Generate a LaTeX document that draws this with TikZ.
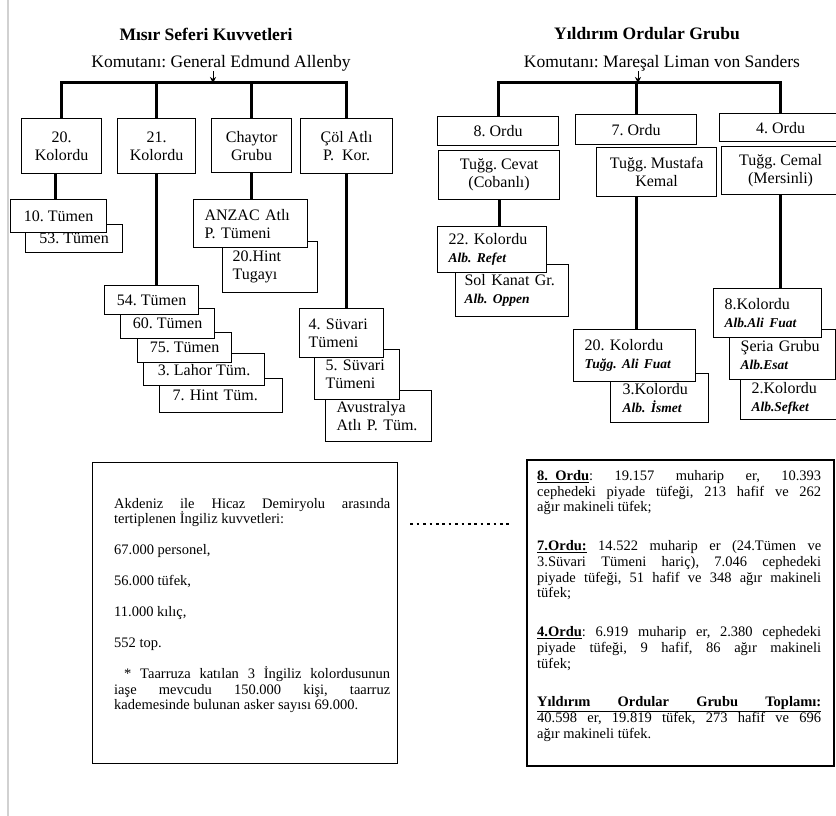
\documentclass[tikz,border=0pt]{standalone}
\usepackage{fontspec}
\setmainfont{Liberation Serif}
\usetikzlibrary{arrows.meta,calc}
\newcommand\offname[1]{{\fontsize{13.5}{18}\selectfont\bfseries\itshape #1}}
\begin{document}
\frenchspacing
\begin{tikzpicture}[x=1pt,y=-1pt,
  every node/.style={inner sep=0pt},
  tbox/.style={draw=black, line width=1.2pt, fill=white, anchor=north west, align=center, font=\fontsize{16}{18}\selectfont\frenchspacing},
  lbx/.style={tbox, align=left},
  conn/.style={line width=3pt},
  cmdarrow/.style={line width=0.9pt, -{Stealth[length=6pt,width=6pt]}},
  titlefont/.style={font=\fontsize{17.5}{20}\selectfont\bfseries},
  cmdfont/.style={font=\fontsize{17.5}{20}\selectfont},
  infobox/.style={draw=black, anchor=north west, fill=white},
  dotline/.style={line width=2.6pt, dash pattern=on 2.6pt off 3.8pt}
]
\useasboundingbox (0,0) rectangle (836,816);
\fill[white] (0,0) rectangle (836,816);
\clip (0,0) rectangle (836,816);
\draw[line width=2pt, black!18] (8,0) -- (8,816);

% ---------- titles ----------
\node[titlefont] (t1) at (206,34) {Mısır Seferi Kuvvetleri};
\node[cmdfont] (c1) at (221,63) {Komutanı: General Edmund Allenby};
\node[titlefont] (t2) at (647,34) {Yıldırım Ordular Grubu};
\node[cmdfont] (c2) at (662,63) {Komutanı: Mareşal Liman von Sanders};

% ---------- left tree ----------
\node[tbox, minimum width=80pt, minimum height=55pt] (k20) at (21,118) {20.\\Kolordu};
\node[tbox, minimum width=78pt, minimum height=55pt] (k21) at (117,118) {21.\\Kolordu};
\node[tbox, minimum width=80pt, minimum height=54pt] (chay) at (211,118) {Chaytor\\Grubu};
\node[tbox, minimum width=92pt, minimum height=55pt] (col) at (300,118) {Çöl Atlı\\P.~~Kor.};

\node[tbox, minimum width=97pt, minimum height=28pt] (t53) at (25,224) {53. Tümen};
\node[tbox, minimum width=96pt, minimum height=33pt] (t10) at (10,199) {10. Tümen};

\node[lbx, text width=75pt, inner xsep=10pt, minimum height=51pt] (hint20) at (222,241) {20.Hint\\Tugayı};
\node[lbx, text width=92pt, inner xsep=11pt, minimum height=48pt] (anzac) at (193,199) {ANZAC Atlı\\P. Tümeni};

\node[lbx, text width=97pt, inner xsep=13pt, minimum height=34pt] (t7h) at (159,378) {7. Hint Tüm.};
\node[tbox, minimum width=121pt, minimum height=32pt] (lahor) at (143,353) {3. Lahor Tüm.};
\node[tbox, minimum width=94pt, minimum height=30pt] (t75) at (137,332) {75. Tümen};
\node[tbox, minimum width=94pt, minimum height=30pt] (t60) at (120,308) {60. Tümen};
\node[tbox, minimum width=94pt, minimum height=29pt] (t54) at (104,285) {54. Tümen};

\node[lbx, text width=84pt, inner xsep=11pt, minimum height=51pt] (avus) at (325,390) {Avustralya\\Atlı P. Tüm.};
\node[lbx, text width=63pt, inner xsep=11pt, minimum height=50pt] (s5) at (314,349) {5. Süvari\\Tümeni};
\node[lbx, text width=66pt, inner xsep=9pt, minimum height=49pt] (s4) at (299,308) {4. Süvari\\Tümeni};

\coordinate (hq1) at (213,83);
\draw[conn] (k20.north) -- (k20.north |- hq1) -- (col.north |- hq1) -- (col.north);
\draw[conn] (k21.north) -- (k21.north |- hq1);
\draw[conn] (chay.north) -- (chay.north |- hq1);
\draw[cmdarrow] (c1.south -| hq1) -- (hq1);

\coordinate (a1) at ($(k20.south)+(-6,0)$);
\draw[conn] (a1) -- (a1 |- t10.north);
\draw[conn] (k21.south) -- (k21.south |- t54.north);
\draw[conn] (chay.south) -- (chay.south |- anzac.north);
\draw[conn] (col.south) -- (col.south |- s4.north);

% ---------- right tree ----------
\node[tbox, minimum width=121pt, minimum height=29pt] (o8) at (437,116) {8. Ordu};
\node[tbox, minimum width=121pt, minimum height=30pt] (o7) at (575,114) {7. Ordu};
\node[tbox, minimum width=122pt, minimum height=28pt] (o4) at (719,113) {4. Ordu};
\node[tbox, minimum width=121pt, minimum height=49pt] (cevat) at (438,150) {Tuğg. Cevat\\(Cobanlı)};
\node[tbox, minimum width=120pt, minimum height=49pt] (kemal) at (596,147) {Tuğg. Mustafa\\Kemal};
\node[tbox, minimum width=118pt, minimum height=48pt] (cemal) at (721,146) {Tuğg. Cemal\\(Mersinli)};

\node[lbx, text width=95pt, inner xsep=9pt, minimum height=52pt] (sol) at (455,264) {Sol Kanat Gr.\\\offname{Alb. Oppen}};
\node[lbx, text width=87pt, inner xsep=11pt, minimum height=46pt] (k22) at (437,226) {22. Kolordu\\\offname{Alb. Refet}};

\node[lbx, text width=74pt, inner xsep=12pt, minimum height=49pt] (k3) at (610,373) {3.Kolordu\\\offname{Alb. İsmet}};
\node[lbx, text width=100pt, inner xsep=11pt, minimum height=52pt] (k20r) at (573,329) {20. Kolordu\\\offname{Tuğg. Ali Fuat}};

\node[lbx, text width=84pt, inner xsep=11pt, minimum height=42pt] (k2) at (740,377) {2.Kolordu\\\offname{Alb.Sefket}};
\node[lbx, text width=84pt, inner xsep=11pt, minimum height=50pt] (seria) at (729,329) {Şeria Grubu\\\offname{Alb.Esat}};
\node[lbx, text width=86pt, inner xsep=11pt, minimum height=49pt] (k8) at (713,288) {8.Kolordu\\\offname{Alb.Ali Fuat}};

\coordinate (hq2) at (638,83);
\draw[conn] (o8.north) -- (o8.north |- hq2) -- (o4.north |- hq2) -- (o4.north);
\draw[conn] (o7.north) -- (o7.north |- hq2);
\draw[cmdarrow] (c2.south -| hq2) -- (hq2);

\draw[conn] (cevat.south) -- (cevat.south |- k22.north);
\draw[conn] (kemal.south -| o7.south) -- (k20r.north -| o7.south);
\draw[conn] (cemal.south) -- (cemal.south |- k8.north);

% ---------- lower boxes ----------
\node[infobox, line width=1.3pt, minimum width=305pt, minimum height=301pt] (lbox) at (92,462) {};
\node[infobox, line width=2pt, minimum width=307pt, minimum height=306pt] (rbox) at (526,459) {};
\coordinate (dy) at (0,524);
\draw[dotline, shorten <=12pt, shorten >=15pt] (lbox.east |- dy) -- (rbox.west |- dy);

\node[anchor=north west, align=left, font=\fontsize{14.5}{15.5}\selectfont\frenchspacing] (ltext) at (114,498) {%
\makebox[276pt][s]{Akdeniz ile Hicaz Demiryolu arasında}\\
tertiplenen İngiliz kuvvetleri:\\[15.5pt]
67.000 personel,\\[15.5pt]
56.000 tüfek,\\[15.5pt]
11.000 kılıç,\\[15.5pt]
552 top.\\[15.5pt]
\makebox[276pt][s]{\hspace*{10pt}* Taarruza katılan 3 İngiliz kolordusunun}\\
\makebox[276pt][s]{iaşe mevcudu 150.000 kişi, taarruz}\\
kademesinde bulunan asker sayısı 69.000.};

\node[anchor=north west, align=left, font=\fontsize{14.5}{15.75}\selectfont\frenchspacing] (rtext) at (537,470) {%
\makebox[284pt][s]{\underline{\textbf{8.\ \ Ordu}}: 19.157 muharip er, 10.393}\\
\makebox[284pt][s]{cephedeki piyade tüfeği, 213 hafif ve 262}\\
ağır makineli tüfek;\\[23pt]
\makebox[284pt][s]{\underline{\textbf{7.Ordu:}} 14.522 muharip er (24.Tümen ve}\\
\makebox[284pt][s]{3.Süvari Tümeni hariç), 7.046 cephedeki}\\
\makebox[284pt][s]{piyade tüfeği, 51 hafif ve 348 ağır makineli}\\
tüfek;\\[23pt]
\makebox[284pt][s]{\underline{\textbf{4.Ordu}}: 6.919 muharip er, 2.380 cephedeki}\\
\makebox[284pt][s]{piyade tüfeği, 9 hafif, 86 ağır makineli}\\
tüfek;\\[23pt]
\underline{\makebox[284pt][s]{\bfseries Yıldırım Ordular Grubu Toplamı:}}\\
\makebox[284pt][s]{40.598 er, 19.819 tüfek, 273 hafif ve 696}\\
ağır makineli tüfek.};
\end{tikzpicture}
\end{document}
